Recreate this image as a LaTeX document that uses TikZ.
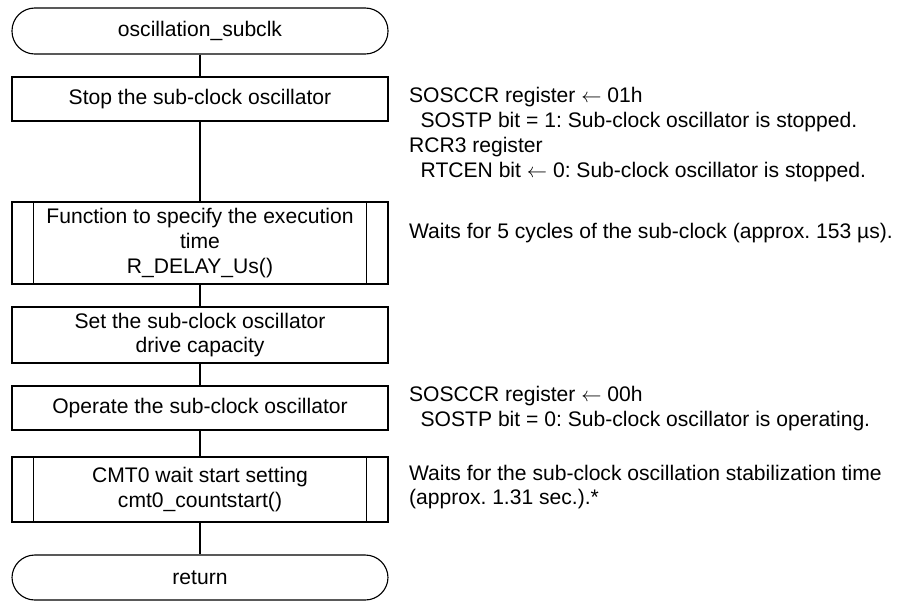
\documentclass[tikz,border=0pt]{standalone}
\usepackage{fontspec}
\setmainfont{Liberation Sans}
\usepackage{tikz}
\frenchspacing
\tikzstyle{terminal} = [rectangle, rounded corners=0.57cm, minimum width=9.4cm, minimum height=1.15cm, text centered, draw=black, line width=0.8pt]
\tikzstyle{process} = [rectangle, minimum width=9.4cm, minimum height=1.1cm, text centered, align=center, draw=black, line width=0.8pt]
\tikzstyle{subroutine} = [process, inner xsep=0.6cm]
\tikzstyle{line} = [line width=0.8pt, draw=black]
\tikzstyle{note} = [anchor=west, align=left, inner sep=0pt]

\begin{document}
\begin{tikzpicture}[every node/.style={font=\fontsize{15}{17.7}\selectfont}]
\useasboundingbox (0,0) rectangle (22.475,-15.025);

% Flow
\node[terminal] (start) at (5,-0.775) {oscillation\_subclk};
\node[process] (stop) at (5,-2.475) {Stop the sub-clock oscillator};
\node[subroutine, minimum height=2.05cm] (dly) at (5,-6.075) {Function to specify the execution\\time\\R\_DELAY\_Us()};
\node[process, minimum height=1.4cm] (drv) at (5,-8.375) {Set the sub-clock oscillator\\drive capacity};
\node[process] (run) at (5,-10.2) {Operate the sub-clock oscillator};
\node[subroutine, minimum height=1.625cm] (cmt) at (5,-12.2375) {CMT0 wait start setting\\cmt0\_countstart()};
\node[terminal, minimum height=1.125cm] (ret) at (5,-14.4375) {return};

% Subroutine side bars
\draw[line] ([xshift=0.55cm]dly.north west) -- ([xshift=0.55cm]dly.south west);
\draw[line] ([xshift=-0.55cm]dly.north east) -- ([xshift=-0.55cm]dly.south east);
\draw[line] ([xshift=0.55cm]cmt.north west) -- ([xshift=0.55cm]cmt.south west);
\draw[line] ([xshift=-0.55cm]cmt.north east) -- ([xshift=-0.55cm]cmt.south east);

% Connections
\draw[line] (start) -- (stop);
\draw[line] (stop) -- (dly);
\draw[line] (dly) -- (drv);
\draw[line] (drv) -- (run);
\draw[line] (run) -- (cmt);
\draw[line] (cmt) -- (ret);

% Notes
\node[note] (n1) at (10.22,-3.3625) {SOSCCR register \(\leftarrow\) 01h\\\hspace*{0.55em}SOSTP bit = 1: Sub-clock oscillator is stopped.\\RCR3 register\\\hspace*{0.55em}RTCEN bit \(\leftarrow\) 0: Sub-clock oscillator is stopped.};
\node[note] (n2) at (10.22,-5.825) {Waits for 5 cycles of the sub-clock (approx. 153 µs).};
\node[note] (n3) at (10.22,-10.2125) {SOSCCR register \(\leftarrow\) 00h\\\hspace*{0.55em}SOSTP bit = 0: Sub-clock oscillator is operating.};
\node[note] (n4) at (10.22,-12.175) {Waits for the sub-clock oscillation stabilization time\\(approx. 1.31 sec.).*};
\end{tikzpicture}
\end{document}
